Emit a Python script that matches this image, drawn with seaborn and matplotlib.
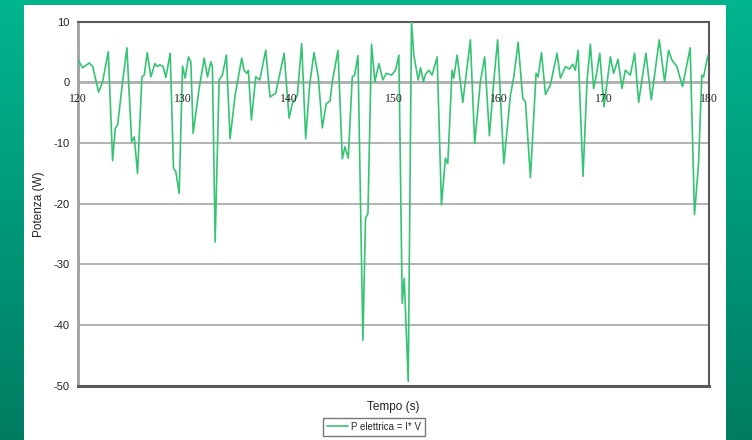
import numpy as np
import pandas as pd
import matplotlib
matplotlib.use("Agg")
import matplotlib.pyplot as plt
import seaborn as sns

# Tempo (s) and electric power P = I*V (W)
tempo = [
    120.0, 120.44, 121.08, 121.4, 121.96, 122.34, 122.88, 123.29, 123.54, 123.77,
    124.24, 124.65, 125.1, 125.35, 125.66, 126.08, 126.3, 126.58, 126.93, 127.31,
    127.56, 127.78, 128.1, 128.35, 128.77, 129.08, 129.3, 129.62, 129.94, 130.19,
    130.5, 130.73, 130.95, 131.52, 132.0, 132.31, 132.63, 132.78, 133.04, 133.42,
    133.73, 134.11, 134.46, 134.94, 135.57, 135.79, 136.04, 136.2, 136.49, 136.9,
    137.28, 137.85, 138.26, 138.8, 139.6, 140.07, 140.38, 140.86, 141.27, 141.65,
    142.03, 142.44, 142.85, 143.23, 143.61, 143.96, 144.18, 144.72, 145.13, 145.38,
    145.7, 146.08, 146.3, 146.62, 147.09, 147.34, 147.57, 147.91, 148.23, 148.61,
    148.99, 149.31, 149.81, 150.19, 150.51, 150.83, 151.02, 151.4, 151.71, 151.93,
    152.35, 152.57, 152.85, 153.04, 153.36, 153.67, 154.15, 154.56, 154.94, 155.16,
    155.57, 155.73, 156.05, 156.59, 157.31, 157.72, 158.26, 158.67, 159.12, 159.53,
    159.9, 160.49, 161.12, 161.44, 161.85, 162.29, 162.55, 163.02, 163.56, 163.75,
    164.07, 164.45, 164.92, 165.55, 165.87, 166.35, 166.73, 167.04, 167.29, 167.55,
    168.02, 168.4, 168.72, 169.03, 169.26, 169.61, 170.02, 170.62, 170.93, 171.35,
    171.73, 172.04, 172.52, 172.93, 173.31, 174.0, 174.51, 175.27, 175.78, 176.16,
    176.47, 176.95, 177.48, 178.21, 178.62, 179.0, 179.32, 179.48, 179.89,
]
potenza = [
    3.7, 2.4, 3.2, 2.6, -1.6, 0.1, 5.05, -12.9, -7.6, -7.0,
    0.1, 5.7, -9.8, -9.0, -15.0, 0.9, 1.2, 4.9, 0.9, 3.1,
    2.6, 2.9, 2.6, 0.8, 4.8, -14.2, -14.7, -18.3, 2.7, 0.7,
    4.2, 3.4, -8.4, -1.0, 4.0, 0.9, 3.4, 2.6, -26.3, 0.4,
    1.2, 4.5, -9.3, -2.1, 4.0, 2.0, 1.5, 2.0, -6.2, 0.9,
    0.4, 5.3, -2.4, -1.8, 4.8, -5.9, -3.5, -2.1, 6.4, -9.3,
    -0.4, 4.9, 0.9, -7.5, -3.5, -3.1, 0.1, 5.3, -12.6, -10.6,
    -12.5, 0.9, 1.2, 4.4, -42.5, -22.4, -21.6, 6.3, 0.1, 3.1,
    0.4, 1.5, 1.2, 2.0, 4.5, -36.4, -32.3, -49.3, 10.0, 4.5,
    0.4, 2.4, 0.1, 1.3, 2.0, 1.2, 4.2, -20.2, -12.5, -13.4,
    2.0, 0.7, 4.5, -3.3, 7.0, -10.1, 0.1, 4.2, -8.8, 0.1,
    7.0, -13.4, -2.1, 0.9, 6.6, -2.6, -3.2, -15.7, 1.5, 0.9,
    4.9, -2.0, -0.4, 4.8, 0.7, 2.6, 2.2, 3.0, 2.0, 5.3,
    -15.5, 0.1, 6.3, -1.0, 0.9, 4.8, -4.0, 4.2, 1.5, 3.8,
    -1.0, 2.0, 1.2, 4.8, -3.3, 4.8, -2.9, 7.0, 0.1, 5.3,
    3.7, 2.6, -0.7, 5.7, -21.8, -13.6, 1.2, 0.9, 4.4,
]
x_ticks = [120, 130, 140, 150, 160, 170, 180]
y_ticks = [10, 0, -10, -20, -30, -40, -50]
serie = "P elettrica = I* V"

df = pd.DataFrame({"Tempo (s)": tempo, "Potenza (W)": potenza, "serie": serie})

sns.set_theme(style="white")
plt.rcParams["font.family"] = ["Liberation Sans", "DejaVu Sans"]

W, H = 752, 440
fig = plt.figure(figsize=(W / 100, H / 100), dpi=100)

# green gradient backdrop with a white card on top
bg = fig.add_axes([0, 0, 1, 1])
top = np.array([0, 181, 143]) / 255
bot = np.array([0, 124, 98]) / 255
t = np.linspace(0, 1, 256)[:, None]
grad = (top[None, :] * (1 - t) + bot[None, :] * t)[:, None, :]
bg.imshow(grad, aspect="auto", extent=[0, 1, 0, 1], origin="upper")
bg.add_patch(plt.Rectangle((24 / W, 0), (726 - 24) / W, (H - 5) / H,
                           facecolor="white", edgecolor="none"))
bg.set_xlim(0, 1)
bg.set_ylim(0, 1)
bg.axis("off")

ax = fig.add_axes([78 / W, (H - 385.7) / H, (709 - 78) / W, (385.7 - 21.7) / H])
ax.set_facecolor("white")

ax.set_xlim(120, 180)
ax.set_ylim(-50, 10)
ax.set_yticks(y_ticks)
ax.set_yticklabels([str(v) for v in y_ticks], fontsize=8, color="#222222")
ax.set_xticks(x_ticks)
ax.set_xticklabels([])
ax.tick_params(axis="both", length=0, pad=6)
ax.grid(axis="y", color="#a6a6a6", lw=1.2)
ax.grid(axis="x", visible=False)
ax.axhline(0, color="#b0b0b0", lw=2.0, zorder=1)

for side, col, lw in [("left", "#a0a0a0", 2.0), ("bottom", "#5a5a5a", 2.2),
                      ("top", "#5a5a5a", 1.5), ("right", "#5a5a5a", 1.5)]:
    ax.spines[side].set_visible(True)
    ax.spines[side].set_color(col)
    ax.spines[side].set_linewidth(lw)

sns.lineplot(data=df, x="Tempo (s)", y="Potenza (W)", hue="serie",
             palette=["#35c474"], lw=1.2, ax=ax, zorder=3, sort=False,
             solid_joinstyle="round", solid_capstyle="round")

# x tick labels sit just under the zero line
for xt in x_ticks:
    ax.annotate(str(xt), xy=(xt, 0), xytext=(0, -7.5), textcoords="offset points",
                ha="center", va="top", fontsize=8.5, family="Liberation Serif",
                color="#222222", annotation_clip=False)

ax.set_xlabel("Tempo (s)", fontsize=8.5, labelpad=5, color="#222222")
ax.set_ylabel("Potenza (W)", fontsize=8.5, labelpad=6, color="#222222")

leg = ax.legend(loc="upper center", bbox_to_anchor=((374 - 78) / (709 - 78), -0.075),
                frameon=True, fontsize=7, handlelength=2.2, handletextpad=0.3,
                borderpad=0.4, fancybox=False)
leg.get_frame().set_edgecolor("#555555")
leg.get_frame().set_linewidth(1.0)

fig.savefig("out.png", dpi=100)
